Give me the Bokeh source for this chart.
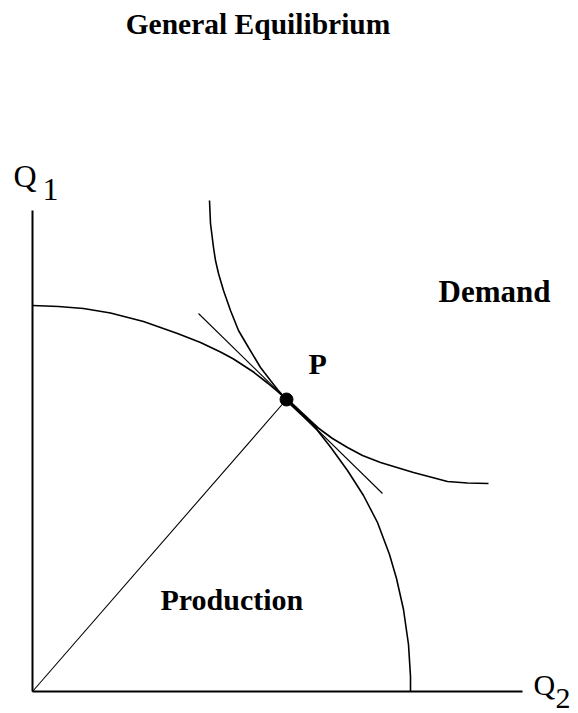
from bokeh.plotting import figure
from bokeh.models import Range1d
from bokeh.core.properties import value
from bokeh.embed import file_html
from bokeh.resources import INLINE

# ---- data (diagram units, origin at the axes' corner) ----
axis_q2_end = 490
axis_q1_end = 481

# production possibility frontier (Q2, Q1)
prod_q2 = [0, 26, 51, 78, 111, 145, 168, 188, 201, 221, 235, 245, 254,
           270, 285, 298, 315, 331, 345, 357, 364, 371, 376, 378, 378]
prod_q1 = [386, 385, 383, 378.5, 370, 358, 349, 339.5, 332.5, 319.5, 308.5, 300, 292,
           276.5, 261, 244.5, 221, 196, 169, 137, 113, 82, 47, 15, 0]

# demand (indifference) curve
dem_q2 = [177, 178, 181, 183, 186, 191, 198, 206, 216, 228, 238, 245, 254,
          270, 285, 300, 315, 330, 348, 381, 415, 435, 456]
dem_q1 = [491, 468, 444, 431, 418, 401, 381, 361, 344, 324, 311, 302, 292,
          277, 264, 253, 244, 236, 229, 219, 210, 208.5, 208]

# common tangent (price line)
tan_q2 = [166, 350]
tan_q1 = [378, 198]

# equilibrium point P
p_q2 = 254
p_q1 = 292

# thick overlap segment just below P
thick_q2 = [254, 285]
thick_q1 = [292, 263]

FONT = value("Liberation Serif")

p = figure(width=578, height=713,
           x_range=Range1d(-32, 546), y_range=Range1d(-22, 691),
           x_axis_type=None, y_axis_type=None,
           min_border=0, toolbar_location=None, output_backend="svg")
p.grid.visible = False
p.outline_line_color = None
p.background_fill_color = "white"
p.border_fill_color = "white"

# axes
p.line([0, 0], [0, axis_q1_end], line_color="black", line_width=2)
p.line([0, axis_q2_end], [0, 0], line_color="black", line_width=2)

# ray from origin to P
p.line([0, p_q2], [0, p_q1], line_color="black", line_width=1.1)

# curves
p.line(prod_q2, prod_q1, line_color="black", line_width=1.6)
p.line(dem_q2, dem_q1, line_color="black", line_width=1.6)
p.line(tan_q2, tan_q1, line_color="black", line_width=1.1)
p.line(thick_q2, thick_q1, line_color="black", line_width=3.5)

# P dot
p.scatter([p_q2], [p_q1], size=13, color="black")

# texts
p.text(x=[225.5], y=[668], text=["General Equilibrium"], text_font=FONT,
       text_font_style="bold", text_font_size="29.5px", text_align="center",
       text_baseline="alphabetic", text_color="black")
p.text(x=[406], y=[400], text=["Demand"], text_font=FONT,
       text_font_style="bold", text_font_size="31px", text_align="left",
       text_baseline="alphabetic", text_color="black")
p.text(x=[276], y=[328], text=["P"], text_font=FONT,
       text_font_style="bold", text_font_size="30px", text_align="left",
       text_baseline="alphabetic", text_color="black")
p.text(x=[128], y=[92], text=["Production"], text_font=FONT,
       text_font_style="bold", text_font_size="30px", text_align="left",
       text_baseline="alphabetic", text_color="black")

# axis labels Q1, Q2 (letter plus lowered subscript)
p.text(x=[-19, 10], y=[516, 502], text=["Q", "1"], text_font=FONT,
       text_font_size="32px", text_align="left",
       text_baseline="alphabetic", text_color="black")
p.text(x=[501, 523], y=[7, -7], text=["Q", "2"], text_font=FONT,
       text_font_size="30px", text_align="left",
       text_baseline="alphabetic", text_color="black")

open("out.html", "w").write(file_html(p, INLINE))
